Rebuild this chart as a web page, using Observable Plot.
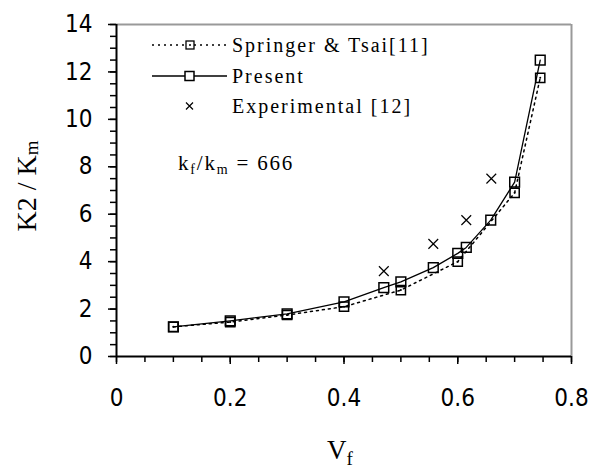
<!DOCTYPE html>
<html>
<head>
<meta charset="utf-8">
<script src="https://cdn.jsdelivr.net/npm/d3@7"></script>
<script src="https://cdn.jsdelivr.net/npm/@observablehq/plot@0.6"></script>
<style>
  html, body { margin: 0; padding: 0; background: #fff; }
  #chart { position: relative; width: 598px; height: 468px; overflow: hidden; }
</style>
</head>
<body>
<div id="chart"></div>
<script>
// ---- data ----
const vfSpringer = [0.1, 0.2, 0.3, 0.4, 0.5, 0.6, 0.7, 0.745];
const kSpringer  = [1.25, 1.45, 1.75, 2.1, 2.8, 4.0, 6.9, 11.75];

const vfPresent = [0.1, 0.2, 0.3, 0.4, 0.47, 0.5, 0.557, 0.6, 0.615, 0.658, 0.7, 0.745];
const kPresent  = [1.25, 1.5, 1.8, 2.3, 2.9, 3.15, 3.75, 4.35, 4.6, 5.75, 7.35, 12.5];

const vfExperimental = [0.47, 0.557, 0.615, 0.659];
const kExperimental  = [3.6, 4.75, 5.75, 7.5];

const xMajorTicks = [0, 0.2, 0.4, 0.6, 0.8];
const xTickLabels = ["0", "0.2", "0.4", "0.6", "0.8"];
const xMinorTicks = d3.range(0, 0.8001, 0.05);
const yMajorTicks = [0, 2, 4, 6, 8, 10, 12, 14];
const yTickLabels = ["0", "2", "4", "6", "8", "10", "12", "14"];
const yMinorTicks = d3.range(0, 14.001, 0.5);

const seriesNames = ["Springer & Tsai[11]", "Present", "Experimental [12]"];

// ---- tables ----
const springer = vfSpringer.map((x, i) => ({x, y: kSpringer[i]}));
const present = vfPresent.map((x, i) => ({x, y: kPresent[i]}));
const experimental = vfExperimental.map((x, i) => ({x, y: kExperimental[i]}));

const tickFont = "'Liberation Sans Narrow', 'DejaVu Sans Condensed', 'Liberation Sans', sans-serif";
const serif = "'Liberation Serif', 'DejaVu Serif', serif";

const plot = Plot.plot({
  width: 598,
  height: 468,
  marginLeft: 116,
  marginRight: 27,
  marginTop: 24,
  marginBottom: 112,
  x: {domain: [0, 0.8]},
  y: {domain: [0, 14]},
  style: {fontFamily: tickFont, fontSize: "24px", color: "#000", background: "#fff"},
  marks: [
    Plot.ruleY([14], {stroke: "#999", strokeWidth: 2}),
    Plot.ruleX([0.8], {stroke: "#999", strokeWidth: 2}),
    Plot.axisX({ticks: xMinorTicks, tickSize: 6, tickFormat: () => "", label: null, strokeWidth: 1.5}),
    Plot.axisX({ticks: xMajorTicks, tickSize: 8, tickPadding: 24, label: null, strokeWidth: 1.5,
      tickFormat: d => xTickLabels[xMajorTicks.indexOf(d)]}),
    Plot.axisY({ticks: yMinorTicks, tickSize: 6, tickFormat: () => "", label: null, strokeWidth: 1.5}),
    Plot.axisY({ticks: yMajorTicks, tickSize: 8, tickPadding: 16, label: null, strokeWidth: 1.5,
      tickFormat: d => yTickLabels[yMajorTicks.indexOf(d)]}),
    Plot.ruleX([0], {strokeWidth: 2}),
    Plot.ruleY([0], {strokeWidth: 2}),
    Plot.line(springer, {x: "x", y: "y", stroke: "black", strokeWidth: 1.5, strokeDasharray: "2,4"}),
    Plot.line(present, {x: "x", y: "y", stroke: "black", strokeWidth: 1.3}),
    Plot.dot(springer, {x: "x", y: "y", symbol: "square", r: 5.2, stroke: "black", strokeWidth: 1.5, fill: "none"}),
    Plot.dot(springer, {x: "x", y: "y", r: 1, fill: "black"}),
    Plot.dot(present, {x: "x", y: "y", symbol: "square", r: 5.5, stroke: "black", strokeWidth: 1.5, fill: "none"}),
    Plot.dot(experimental, {x: "x", y: "y", symbol: "times", r: 4.5, stroke: "black", strokeWidth: 1.2})
  ]
});

document.getElementById("chart").appendChild(plot);

// ---- decorations: axis titles, legend, annotation ----
const svg = d3.select(plot);

// y title
const yt = svg.append("text")
  .attr("transform", "translate(36,186) rotate(-90)")
  .attr("text-anchor", "middle")
  .style("font-family", serif).style("font-size", "28px").attr("fill", "black");
yt.append("tspan").text("K2 / K");
yt.append("tspan").attr("dy", 2).style("font-size", "19px").text("m");

// x title
const xt = svg.append("text")
  .attr("x", 327).attr("y", 459).attr("text-anchor", "start")
  .style("font-family", serif).style("font-size", "27px").attr("fill", "black");
xt.append("tspan").text("V");
xt.append("tspan").attr("dy", 6).style("font-size", "19px").text("f");

// legend
const lg = svg.append("g").style("font-family", serif).style("font-size", "20px");
const rowsY = [45, 76, 106];
// Springer row
lg.append("line").attr("x1", 152).attr("x2", 227).attr("y1", rowsY[0]).attr("y2", rowsY[0])
  .attr("stroke", "black").attr("stroke-width", 1.5).attr("stroke-dasharray", "2,4");
lg.append("rect").attr("x", 186).attr("y", rowsY[0] - 4).attr("width", 8).attr("height", 8)
  .attr("fill", "white").attr("stroke", "black").attr("stroke-width", 1.3);
lg.append("circle").attr("cx", 190).attr("cy", rowsY[0]).attr("r", 1).attr("fill", "black");
// Present row
lg.append("line").attr("x1", 152).attr("x2", 227).attr("y1", rowsY[1]).attr("y2", rowsY[1])
  .attr("stroke", "black").attr("stroke-width", 1.5);
lg.append("rect").attr("x", 185).attr("y", rowsY[1] - 4.5).attr("width", 9).attr("height", 9)
  .attr("fill", "white").attr("stroke", "black").attr("stroke-width", 1.5);
// Experimental row
lg.append("path").attr("d", `M186,${rowsY[2]-3.5}L193,${rowsY[2]+3.5}M193,${rowsY[2]-3.5}L186,${rowsY[2]+3.5}`)
  .attr("stroke", "black").attr("stroke-width", 1.2);
seriesNames.forEach((name, i) => {
  lg.append("text").attr("x", 232).attr("y", rowsY[i]).attr("dy", "0.35em")
    .attr("text-anchor", "start")
    .attr("fill", "black").style("letter-spacing", "2px").text(name);
});

// annotation
const an = svg.append("text").attr("x", 178).attr("y", 170).attr("text-anchor", "start")
  .style("font-family", serif).style("font-size", "21px").style("letter-spacing", "1.8px").attr("fill", "black");
an.append("tspan").text("k");
an.append("tspan").attr("dy", 4).style("font-size", "14px").text("f");
an.append("tspan").attr("dy", -4).text("/k");
an.append("tspan").attr("dy", 4).style("font-size", "14px").text("m");
an.append("tspan").attr("dy", -4).text(" = 666");
</script>
</body>
</html>
